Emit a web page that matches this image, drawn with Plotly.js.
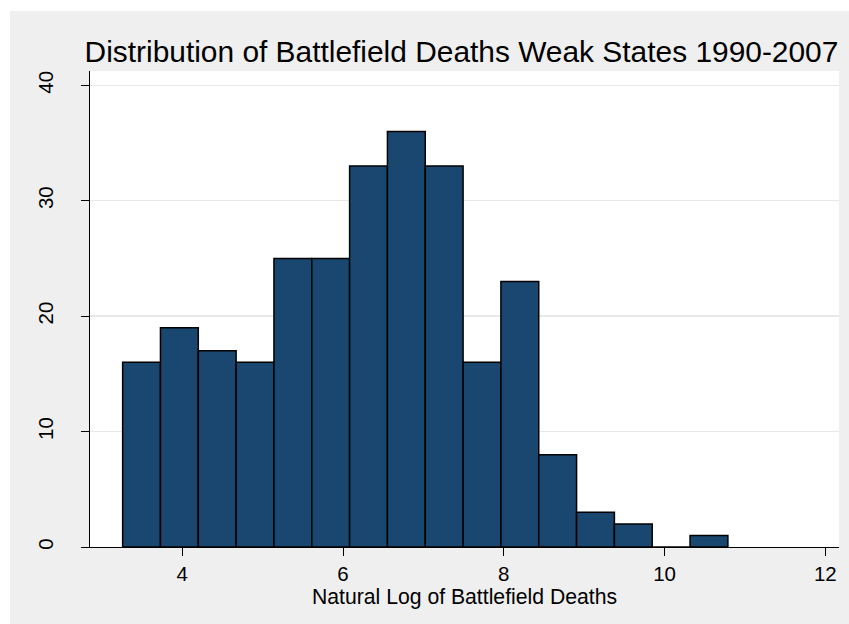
<!DOCTYPE html>
<html>
<head>
<meta charset="utf-8">
<script src="https://cdn.plot.ly/plotly-3.0.1.min.js"></script>
<style>
html,body{margin:0;padding:0;background:#ffffff;overflow:hidden}
#chart{position:absolute;left:10px;top:11px;width:839px;height:613px}
</style>
</head>
<body>
<div id="chart"></div>
<script>
// Histogram of ln(battlefield deaths), 16 bins
const binStart = 3.258;
const binWidth = 0.4706;
const counts = [16, 19, 17, 16, 25, 25, 33, 36, 33, 16, 23, 8, 3, 2, 0, 1];
const xTickVals = [4, 6, 8, 10, 12];
const yTickVals = [0, 10, 20, 30, 40];
const titleText = "Distribution of Battlefield Deaths Weak States 1990-2007";
const xTitleText = "Natural Log of Battlefield Deaths";

const centers = counts.map((c, i) => binStart + (i + 0.5) * binWidth);

const FONT = "Liberation Sans, Arial, Helvetica, sans-serif";

const trace = {
  type: "bar",
  x: centers,
  y: counts,
  width: binWidth,
  marker: { color: "#1a476f", line: { color: "#000000", width: 1.5 } },
  hoverinfo: "x+y"
};

const layout = {
  width: 839,
  height: 613,
  paper_bgcolor: "#efefef",
  plot_bgcolor: "#ffffff",
  margin: { l: 80, r: 10, t: 60, b: 77, pad: 0 },
  showlegend: false,
  bargap: 0,
  title: {
    text: titleText,
    font: { family: FONT, size: 29.9, color: "#000000" },
    xref: "container", x: 0.5381, xanchor: "center",
    yref: "container", y: 0.9341, yanchor: "middle"
  },
  xaxis: {
    range: [2.852, 12.170],
    tickvals: xTickVals,
    ticktext: xTickVals.map(String),
    ticks: "outside", ticklen: 8, tickwidth: 1, tickcolor: "#000000",
    showline: true, linecolor: "#000000", linewidth: 1,
    showgrid: false, zeroline: false,
    tickfont: { family: FONT, size: 20.5, color: "#000000" },
    title: { text: xTitleText, font: { family: FONT, size: 21.2, color: "#000000" }, standoff: 4 },
    fixedrange: true
  },
  yaxis: {
    range: [0, 41.24],
    tickvals: yTickVals,
    ticktext: yTickVals.map(String),
    tickangle: -90,
    ticks: "outside", ticklen: 8, tickwidth: 1, tickcolor: "#000000",
    ticklabelstandoff: 20,
    showline: true, linecolor: "#000000", linewidth: 1,
    showgrid: true, gridcolor: "#e8e8e8", gridwidth: 1.5,
    zeroline: false,
    tickfont: { family: FONT, size: 20.5, color: "#000000" },
    fixedrange: true
  }
};

Plotly.newPlot("chart", [trace], layout, { displayModeBar: false, staticPlot: true });
</script>
</body>
</html>
